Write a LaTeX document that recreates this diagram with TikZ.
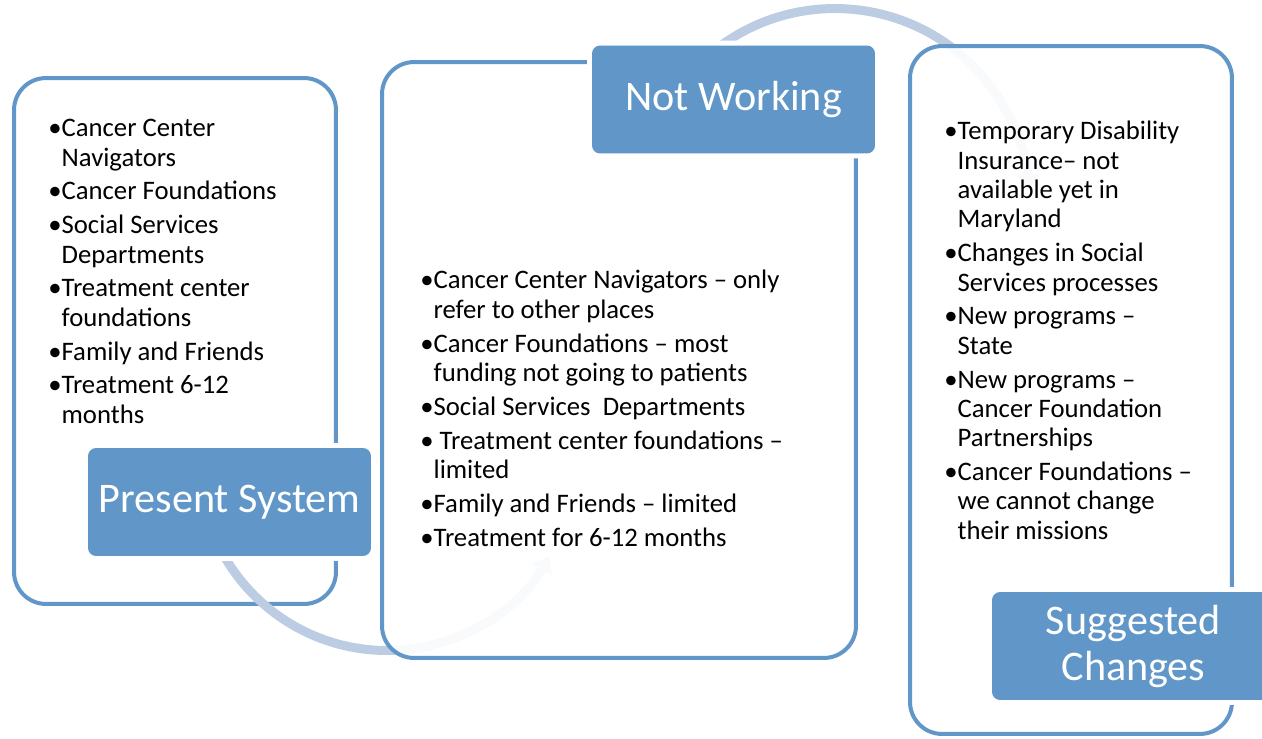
\documentclass[tikz,border=0pt]{standalone}
\usepackage{fontspec}
\setmainfont{Carlito}
\usepackage{tikz}
\usepackage{xcolor}
\usetikzlibrary{arrows.meta,positioning}
\definecolor{boxblue}{RGB}{96,150,200}
\definecolor{arcblue}{RGB}{188,204,227}
\newcommand{\bul}{\textbullet}
\newcommand{\hng}{\phantom{\textbullet}}

\tikzset{
panel/.style={draw=boxblue,line width=0.08cm,rounded corners=0.64cm,fill=white,fill opacity=0.9,inner sep=0pt},
tag/.style={fill=boxblue,rounded corners=0.16cm,text=white,font=\fontsize{24}{26.2}\selectfont,
  minimum width=5.66cm,minimum height=2.16cm,align=center,inner sep=0pt,
  preaction={draw=white,line width=0.2cm}},
items/.style={anchor=north west,align=left,inner sep=0pt,font=\fontsize{15.2}{16.7}\selectfont},
flow/.style={draw=arcblue,line width=0.18cm,-{Triangle[length=0.3cm,width=0.45cm]}}
}

\begin{document}
\begin{tikzpicture}[x=0.02cm,y=0.02cm]
\useasboundingbox (0,0) rectangle (1262,738);
\coordinate (lowhub) at (387,275);
\coordinate (highhub) at (835,535);

\node[panel,minimum width=6.44cm,minimum height=10.52cm] (sysbox) at (175,397) {};
\draw[flow] (lowhub) ++(190:3.75cm) arc[start angle=190,end angle=330,radius=3.75cm];
\node[panel,minimum width=9.48cm,minimum height=11.92cm] (workbox) at (619,378) {};
\draw[flow] (highhub) ++(130:3.89cm) arc[start angle=130,end angle=4,radius=3.89cm];
\node[panel,minimum width=6.44cm,minimum height=13.76cm] (changebox) at (1071,348) {};

\node[tag] (present) at (229.5,236) {Present System};
\node[tag] (notworking) at (733.5,638.5) {Not Working};
\node[tag] (suggested) at (1133.5,92) {Suggested\\Changes};

\node[items] (systext) at (48,619) {\bul Cancer Center\\ \hng Navigators\\[0.09cm]
\bul Cancer Foundations\\[0.09cm]
\bul Social Services\\ \hng Departments\\[0.09cm]
\bul Treatment center\\ \hng foundations\\[0.09cm]
\bul Family and Friends\\[0.09cm]
\bul Treatment 6-12\\ \hng months};

\node[items] (worktext) at (420,468) {\bul Cancer Center Navigators -- only\\ \hng refer to other places\\[0.09cm]
\bul Cancer Foundations -- most\\ \hng funding not going to patients\\[0.09cm]
\bul Social Services\ \ Departments\\[0.09cm]
\bul\ Treatment center foundations --\\ \hng limited\\[0.09cm]
\bul Family and Friends -- limited\\[0.09cm]
\bul Treatment for 6-12 months};

\node[items] (changetext) at (944,617) {\bul Temporary Disability\\ \hng Insurance-- not\\ \hng available yet in\\ \hng Maryland\\[0.09cm]
\bul Changes in Social\\ \hng Services processes\\[0.09cm]
\bul New programs --\\ \hng State\\[0.09cm]
\bul New programs --\\ \hng Cancer Foundation\\ \hng Partnerships\\[0.09cm]
\bul Cancer Foundations --\\ \hng we cannot change\\ \hng their missions};
\end{tikzpicture}
\end{document}
